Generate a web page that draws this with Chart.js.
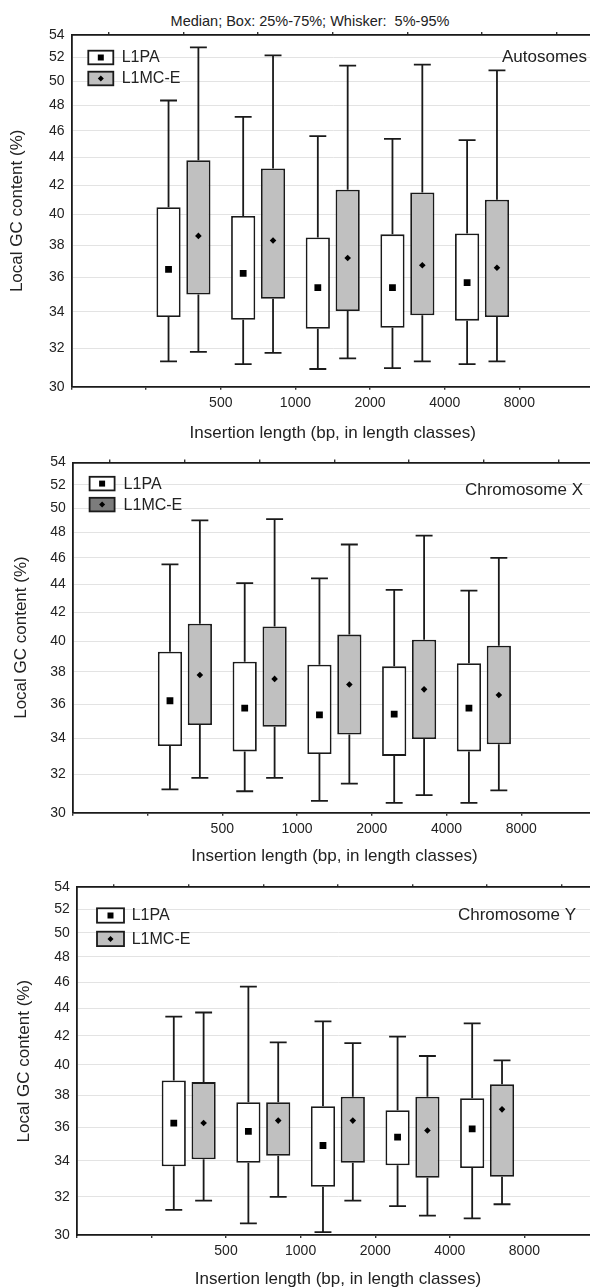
<!DOCTYPE html>
<html>
<head>
<meta charset="utf-8">
<script src="https://cdn.jsdelivr.net/npm/chart.js@4.4.1/dist/chart.umd.min.js"></script>
<style>
  html, body { margin: 0; padding: 0; background: #fff; }
  body { width: 590px; height: 1288px; overflow: hidden; position: relative; font-family: "Liberation Sans", Arial, sans-serif; }
  canvas.panel { position: absolute; left: 0; }
  #topTitle { position: absolute; top: 13px; left: 0; width: 620px; text-align: center; font-size: 14.5px; line-height: 17px; color: #222; white-space: pre; }
</style>
</head>
<body>
<div id="topTitle">Median; Box: 25%-75%; Whisker:  5%-95%</div>
<canvas id="chartAuto" class="panel"></canvas>
<canvas id="chartX" class="panel"></canvas>
<canvas id="chartY" class="panel"></canvas>
<script>
// Length classes, tick labels
const lengthClasses = ['<500', '500-1000', '1000-2000', '2000-4000', '4000-8000'];
const xTickLabels = ['', '', '500', '1000', '2000', '4000', '8000', ''];
const yTickValues = [30, 32, 34, 36, 38, 40, 42, 44, 46, 48, 50, 52, 54];
const seriesNames = ['L1PA', 'L1MC-E'];

// each row: [5%, 25%, median, 75%, 95%] for one length class
const autosomesL1PA = [
  [31.3, 33.7, 36.5, 40.5, 48.4],
  [31.15, 33.55, 36.25, 39.9, 47.1],
  [30.9, 33.05, 35.4, 38.5, 45.6],
  [30.95, 33.1, 35.4, 38.7, 45.4],
  [31.15, 33.5, 35.7, 38.75, 45.3]
];
const autosomesL1MC = [
  [31.8, 35.0, 38.6, 43.8, 52.9],
  [31.75, 34.75, 38.3, 43.2, 52.2],
  [31.45, 34.05, 37.2, 41.7, 51.3],
  [31.3, 33.8, 36.75, 41.5, 51.4],
  [31.3, 33.7, 36.6, 41.0, 50.9]
];
const chrXL1PA = [
  [31.2, 33.55, 36.2, 39.3, 45.5],
  [31.1, 33.25, 35.75, 38.65, 44.1],
  [30.6, 33.1, 35.35, 38.45, 44.45],
  [30.5, 33.0, 35.4, 38.35, 43.6],
  [30.5, 33.25, 35.75, 38.55, 43.55]
];
const chrXL1MC = [
  [31.8, 34.75, 37.8, 41.2, 49.0],
  [31.8, 34.65, 37.55, 41.0, 49.1],
  [31.5, 34.2, 37.2, 40.45, 47.05],
  [30.9, 33.95, 36.9, 40.1, 47.75],
  [31.15, 33.65, 36.55, 39.7, 46.0]
];
const chrYL1PA = [
  [31.3, 33.7, 36.25, 38.95, 43.4],
  [30.6, 33.9, 35.75, 37.55, 45.65],
  [30.15, 32.55, 34.9, 37.3, 43.05],
  [31.5, 33.75, 35.4, 37.05, 41.95],
  [30.85, 33.6, 35.9, 37.8, 42.9]
];
const chrYL1MC = [
  [31.8, 34.1, 36.25, 38.85, 43.7],
  [32.0, 34.3, 36.4, 37.55, 41.55],
  [31.8, 33.9, 36.4, 37.9, 41.5],
  [31.0, 33.05, 35.8, 37.9, 40.6],
  [31.6, 33.1, 37.1, 38.7, 40.3]
];

Chart.defaults.font.family = '"Liberation Sans", Arial, sans-serif';
Chart.defaults.color = '#222';

const CAT_PCT = 0.8;
const BAR_PCT = 0.81;
const INK = '#1a1a1a';
const LINE_W = 1.8;

// whiskers (5%-95%) drawn behind the boxes, from the bar elements and the y scale
const whiskerPlugin = {
  id: 'whiskers',
  beforeDatasetsDraw(chart) {
    const ctx = chart.ctx;
    const y = chart.scales.y;
    chart.data.datasets.forEach((ds, di) => {
      if (!ds.whiskers) return;
      const meta = chart.getDatasetMeta(di);
      meta.data.forEach((bar, i) => {
        const [lo, hi] = ds.whiskers[i];
        const [q1, q3] = ds.data[i].y;
        const cap = bar.width * 0.7;
        ctx.save();
        ctx.strokeStyle = INK;
        ctx.lineWidth = LINE_W;
        ctx.beginPath();
        ctx.moveTo(bar.x, y.getPixelForValue(lo));
        ctx.lineTo(bar.x, y.getPixelForValue(q1));
        ctx.moveTo(bar.x, y.getPixelForValue(q3));
        ctx.lineTo(bar.x, y.getPixelForValue(hi));
        ctx.moveTo(bar.x - cap / 2, y.getPixelForValue(lo));
        ctx.lineTo(bar.x + cap / 2, y.getPixelForValue(lo));
        ctx.moveTo(bar.x - cap / 2, y.getPixelForValue(hi));
        ctx.lineTo(bar.x + cap / 2, y.getPixelForValue(hi));
        ctx.stroke();
        ctx.restore();
      });
    });
  }
};

// legend swatches (box + median marker) and the panel name
const panelTextPlugin = {
  id: 'panelText',
  afterDraw(chart, args, opts) {
    const ctx = chart.ctx;
    const area = chart.chartArea;
    ctx.save();
    // legend
    const boxes = chart.data.datasets.filter(ds => ds.whiskers);
    boxes.forEach((ds, i) => {
      const x0 = area.left + opts.legendX;
      const y0 = area.top + opts.legendY + i * opts.legendStep;
      ctx.fillStyle = ds.legendFill;
      ctx.fillRect(x0, y0, opts.swatchW, opts.swatchH);
      ctx.strokeStyle = INK;
      ctx.lineWidth = LINE_W;
      ctx.strokeRect(x0, y0, opts.swatchW, opts.swatchH);
      const cx = x0 + opts.swatchW / 2;
      const cy = y0 + opts.swatchH / 2;
      ctx.fillStyle = '#000';
      ctx.beginPath();
      if (ds.marker === 'rect') {
        ctx.rect(cx - 3, cy - 3, 6, 6);
      } else {
        ctx.moveTo(cx, cy - 3); ctx.lineTo(cx + 3, cy); ctx.lineTo(cx, cy + 3); ctx.lineTo(cx - 3, cy);
      }
      ctx.fill();
      ctx.font = '16px "Liberation Sans", Arial, sans-serif';
      ctx.fillStyle = '#222';
      ctx.textAlign = 'left';
      ctx.textBaseline = 'middle';
      ctx.fillText(ds.label, x0 + opts.textDx, cy + 0.5);
    });
    // panel name
    ctx.font = '17px "Liberation Sans", Arial, sans-serif';
    ctx.textAlign = 'right';
    ctx.textBaseline = 'middle';
    ctx.fillStyle = '#222';
    ctx.fillText(opts.name, opts.nameRight, area.top + opts.nameDy);
    ctx.restore();
  }
};

function setTicks(values) {
  return scale => { scale.ticks = values.map(v => ({ value: v })); };
}

function buildPanel(p) {
  const canvas = document.getElementById(p.id);
  const plotTop = p.plotTop - p.canvasTop;
  const plotBottom = p.plotBottom - p.canvasTop;
  const xAxisH = p.xTitleY - p.plotBottom + 13.2;
  const height = Math.ceil(plotBottom + xAxisH);
  canvas.width = p.width;
  canvas.height = height;
  canvas.style.top = p.canvasTop + 'px';
  canvas.style.width = p.width + 'px';
  canvas.style.height = height + 'px';

  const tickIdx = xTickLabels.map((_, i) => i);
  const groupOff = CAT_PCT / 4;

  const boxSet = (rows, name, fill, legendFill, marker) => ({
    type: 'bar',
    label: name,
    order: 1,
    data: rows.map((r, i) => ({ x: i + 1.5, y: [r[1], r[3]] })),
    whiskers: rows.map(r => [r[0], r[4]]),
    backgroundColor: fill,
    legendFill: legendFill,
    marker: marker,
    borderColor: INK,
    borderWidth: LINE_W,
    borderSkipped: false,
    categoryPercentage: CAT_PCT,
    barPercentage: BAR_PCT
  });
  const medianSet = (rows, name, shift, style, radius) => ({
    type: 'line',
    label: name + ' median',
    order: 0,
    data: rows.map((r, i) => ({ x: i + 1.5 + shift, y: r[2] })),
    showLine: false,
    pointStyle: style,
    pointRadius: radius,
    pointBackgroundColor: '#000',
    pointBorderColor: '#000',
    pointBorderWidth: 0
  });

  new Chart(canvas, {
    type: 'bar',
    data: {
      datasets: [
        boxSet(p.l1pa, seriesNames[0], '#ffffff', '#ffffff', 'rect'),
        boxSet(p.l1mc, seriesNames[1], '#c0c0c0', p.legendGray, 'diamond'),
        medianSet(p.l1pa, seriesNames[0], -groupOff, 'rect', 4.8),
        medianSet(p.l1mc, seriesNames[1], groupOff, 'rectRot', 3.3)
      ]
    },
    options: {
      responsive: false,
      animation: false,
      devicePixelRatio: 1,
      layout: {
        padding: { top: plotTop - 3, left: p.padLeft, right: 0, bottom: height - plotBottom - xAxisH }
      },
      plugins: {
        legend: { display: false },
        tooltip: { enabled: false },
        panelText: p.text
      },
      scales: {
        x: {
          type: 'linear',
          min: 0,
          max: 7,
          offset: false,
          afterBuildTicks: setTicks(tickIdx),
          afterFit: s => { s.height = xAxisH; },
          ticks: {
            callback: v => xTickLabels[v],
            font: { size: 14 },
            color: '#222',
            padding: 5,
            maxRotation: 0,
            autoSkip: false
          },
          grid: { drawOnChartArea: false, offset: false, drawTicks: true, tickLength: 3, color: '#333', lineWidth: 1.4 },
          border: { display: true, color: INK, width: LINE_W },
          title: {
            display: true,
            text: 'Insertion length (bp, in length classes)',
            font: { size: 17 },
            color: '#222',
            padding: { top: 4, bottom: 3 }
          }
        },
        x2: {
          type: 'linear',
          position: 'top',
          min: 0,
          max: 7,
          offset: false,
          afterBuildTicks: setTicks(tickIdx),
          afterFit: s => { s.height = 3; },
          ticks: { display: false },
          grid: { drawOnChartArea: false, drawTicks: true, tickLength: 3, color: '#333', lineWidth: 1.4 },
          border: { display: true, color: INK, width: LINE_W }
        },
        y: {
          type: 'logarithmic',
          min: 30,
          max: 54,
          afterBuildTicks: setTicks(yTickValues),
          afterFit: s => { s.width = p.axisLeft - p.padLeft; },
          ticks: {
            callback: v => String(v),
            font: { size: 14 },
            color: '#222',
            padding: 7,
            autoSkip: false
          },
          grid: { color: '#e3e3e3', lineWidth: 1, drawTicks: false },
          border: { display: true, color: INK, width: LINE_W },
          title: {
            display: true,
            text: 'Local GC content (%)',
            font: { size: 17 },
            color: '#222',
            padding: { top: 4, bottom: 4 }
          }
        }
      }
    },
    plugins: [whiskerPlugin, panelTextPlugin]
  });
}

const panels = [
  {
    id: 'chartAuto', l1pa: autosomesL1PA, l1mc: autosomesL1MC, legendGray: '#c0c0c0',
    canvasTop: 0, width: 599, plotTop: 35, plotBottom: 386.7, xTitleY: 433.3,
    axisLeft: 71.5, padLeft: 3.3,
    text: { name: 'Autosomes', nameRight: 587, nameDy: 22.5, legendX: 16.8, legendY: 15.7, legendStep: 21, swatchW: 25, swatchH: 13.6, textDx: 33.4 }
  },
  {
    id: 'chartX', l1pa: chrXL1PA, l1mc: chrXL1MC, legendGray: '#7c7c7c',
    canvasTop: 447, width: 601, plotTop: 462.3, plotBottom: 812.7, xTitleY: 856.7,
    axisLeft: 72.8, padLeft: 6.8,
    text: { name: 'Chromosome X', nameRight: 583, nameDy: 27.7, legendX: 16.8, legendY: 14.4, legendStep: 21, swatchW: 25, swatchH: 13.6, textDx: 34 }
  },
  {
    id: 'chartY', l1pa: chrYL1PA, l1mc: chrYL1MC, legendGray: '#c0c0c0',
    canvasTop: 870, width: 604, plotTop: 887.3, plotBottom: 1235, xTitleY: 1279.3,
    axisLeft: 76.8, padLeft: 9.8,
    text: { name: 'Chromosome Y', nameRight: 576, nameDy: 27.7, legendX: 20.2, legendY: 21, legendStep: 23.4, swatchW: 27, swatchH: 14.4, textDx: 34.7 }
  }
];

panels.forEach(buildPanel);
</script>
</body>
</html>
